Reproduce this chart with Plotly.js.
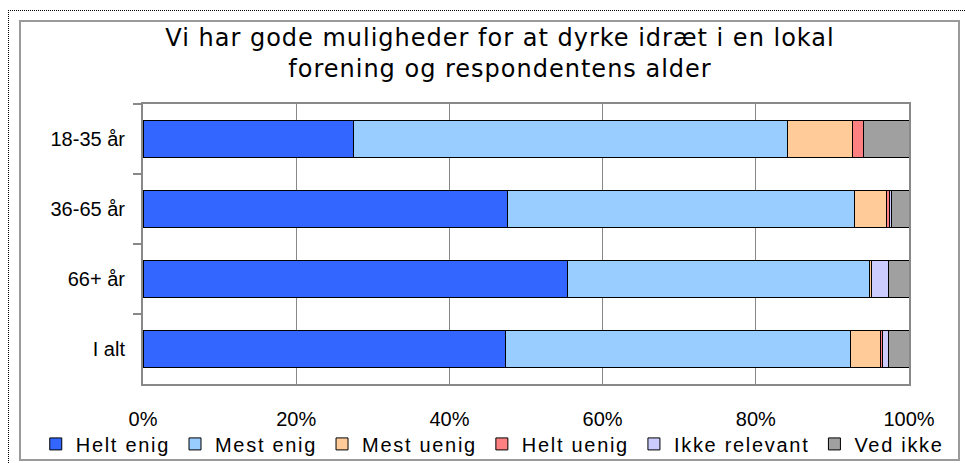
<!DOCTYPE html>
<html><head><meta charset="utf-8">
<script src="https://cdn.plot.ly/plotly-3.0.1.min.js"></script>
<style>
html,body{margin:0;padding:0;background:#fff;overflow:hidden;width:965px;height:463px}
#outer{position:absolute;left:8px;top:10px;width:1000px;height:500px;border-left:1px dotted #000;border-top:1px dotted #000}
#frame{position:absolute;left:19px;top:20px;width:937px;height:437px;border:2px solid #9a9a9a}
#chart{position:absolute;left:0;top:0;width:965px;height:463px}
.gtitle{letter-spacing:1px}
.legendtext{letter-spacing:1.7px}
</style></head>
<body>
<div id="outer"></div>
<div id="frame"></div>
<div id="chart"></div>
<script>
const categories = ['18-35 år', '36-65 år', '66+ år', 'I alt'];
const seriesNames = ['Helt enig', 'Mest enig', 'Mest uenig', 'Helt uenig', 'Ikke relevant', 'Ved ikke'];
const heltEnig     = [27.5, 47.6, 55.4, 47.3];
const mestEnig     = [56.6, 45.3, 39.4, 45.1];
const mestUenig    = [8.5, 4.1, 0.3, 3.9];
const heltUenig    = [1.5, 0.45, 0, 0.2];
const ikkeRelevant = [0, 0.2, 2.2, 0.8];
const vedIkke      = [5.9, 2.35, 2.7, 2.7];
const xTickVals   = [0, 20, 40, 60, 80, 100];
const xTickLabels = ['0%', '20%', '40%', '60%', '80%', '100%'];
const titleText = 'Vi har gode muligheder for at dyrke idræt i en lokal<br>forening og respondentens alder';

const colors = ['#3366FF', '#99CCFF', '#FFCC99', '#FF8080', '#CCCCFF', '#A0A0A0'];
const values = [heltEnig, mestEnig, mestUenig, heltUenig, ikkeRelevant, vedIkke];

const traces = values.map((v, i) => ({
  type: 'bar',
  orientation: 'h',
  name: seriesNames[i],
  x: v,
  y: categories,
  width: 0.54,
  marker: {color: colors[i], line: {color: '#000', width: 1}},
  hoverinfo: 'none'
}));

const font = {family: 'Liberation Sans, Arial, sans-serif', size: 20, color: '#000'};

const layout = {
  width: 965, height: 463,
  paper_bgcolor: 'rgba(0,0,0,0)',
  plot_bgcolor: '#fff',
  barmode: 'stack',
  margin: {l: 143, r: 56, t: 104, b: 79, autoexpand: false},
  font: font,
  title: {
    text: titleText,
    font: {family: 'DejaVu Sans, Verdana, sans-serif', size: 24, color: '#000'},
    x: 500/965, xref: 'container', xanchor: 'center',
    y: 1 - 46/463, yref: 'container', yanchor: 'top'
  },
  xaxis: {
    range: [0, 100],
    tickvals: xTickVals,
    ticktext: xTickLabels,
    showgrid: true, gridcolor: '#888', gridwidth: 1,
    showline: true, mirror: true, linecolor: '#888', linewidth: 2,
    zeroline: false,
    ticks: '',
    ticklabelstandoff: 16,
    tickfont: font,
    automargin: false,
    fixedrange: true
  },
  yaxis: {
    type: 'category',
    autorange: 'reversed',
    ticks: 'outside', tickson: 'boundaries', ticklen: 8, tickcolor: '#888', tickwidth: 2,
    showline: true, mirror: true, linecolor: '#888', linewidth: 2,
    showgrid: false,
    ticklabelstandoff: 12,
    tickfont: font,
    automargin: false,
    fixedrange: true
  },
  showlegend: true,
  legend: {
    orientation: 'h',
    x: -0.14, xanchor: 'left',
    y: -0.214, yanchor: 'middle',
    font: font,
    bgcolor: 'rgba(0,0,0,0)',
    traceorder: 'normal'
  },
  hovermode: false
};

Plotly.newPlot('chart', traces, layout, {staticPlot: true, displayModeBar: false});
</script>
</body></html>
